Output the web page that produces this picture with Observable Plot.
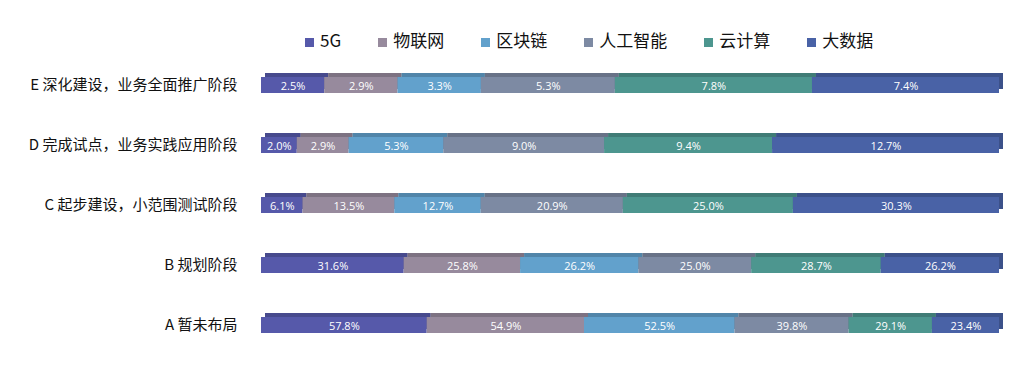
<!DOCTYPE html>
<html><head><meta charset="utf-8">
<script src="https://cdn.jsdelivr.net/npm/d3@7"></script>
<script src="https://cdn.jsdelivr.net/npm/@observablehq/plot@0.6"></script>
<style>
body{margin:0;background:#fff;width:1034px;height:380px;overflow:hidden;position:relative;font-family:"Noto Sans CJK SC",sans-serif}
#legend{position:absolute;top:30px;left:305px;display:flex;gap:37px;font-size:17px;line-height:20px;color:#111}
.item{display:flex;align-items:center}
.sw{width:9px;height:9px;margin-right:6px;margin-top:5px}
#chart{position:absolute;top:62px;left:0}
#chart svg{display:block}
</style></head><body>
<div id="legend"></div><div id="chart"></div>
<script>
const categories = ["E 深化建设，业务全面推广阶段", "D 完成试点，业务实践应用阶段", "C 起步建设，小范围测试阶段", "B 规划阶段", "A 暂未布局"];
const series = ["5G", "物联网", "区块链", "人工智能", "云计算", "大数据"];
const colors = ["#5659AA", "#978A9D", "#62A1CC", "#7D8AA3", "#4D968F", "#4962A6"];
const valE = [2.5, 2.9, 3.3, 5.3, 7.8, 7.4];
const valD = [2.0, 2.9, 5.3, 9.0, 9.4, 12.7];
const valC = [6.1, 13.5, 12.7, 20.9, 25.0, 30.3];
const valB = [31.6, 25.8, 26.2, 25.0, 28.7, 26.2];
const valA = [57.8, 54.9, 52.5, 39.8, 29.1, 23.4];
const values = [valE, valD, valC, valB, valA];

const rows = [];
categories.forEach((c, i) => series.forEach((s, j) => rows.push({cat: c, series: s, value: values[i][j]})));

const legend = document.getElementById("legend");
series.forEach((s, i) => {
  const it = document.createElement("div"); it.className = "item";
  const sw = document.createElement("span"); sw.className = "sw"; sw.style.background = colors[i];
  const t = document.createElement("span"); t.textContent = s;
  it.appendChild(sw); it.appendChild(t); legend.appendChild(it);
});

const st = (o) => Plot.stackX({y: "cat", x: "value", z: "series", offset: "normalize", order: series, ...o});

const chart = Plot.plot({
  width: 1034, height: 318,
  marginLeft: 261, marginRight: 35, marginTop: 13, marginBottom: 46,
  style: {fontFamily: "'Noto Sans CJK SC', sans-serif", fontSize: "15px", color: "#111", background: "#fff"},
  x: {axis: null, domain: [0, 1]},
  y: {domain: categories, paddingInner: 0.736, paddingOuter: 0, align: 0.5, tickSize: 0, tickPadding: 24, label: null},
  color: {domain: series, range: colors},
  marks: [
    Plot.barX(rows, st({fill: "series", dx: 4, dy: -4})),
    Plot.barX(rows, st({fill: "black", fillOpacity: 0.17, dx: 4, dy: -4})),
    Plot.barX(rows, st({fill: "series"})),
    Plot.text(rows, st({text: d => d.value.toFixed(1) + "%", fill: "white", fontSize: 11, fontFamily: "'Open Sans', sans-serif", dy: 1}))
  ]
});
document.getElementById("chart").appendChild(chart);
</script>
</body></html>
